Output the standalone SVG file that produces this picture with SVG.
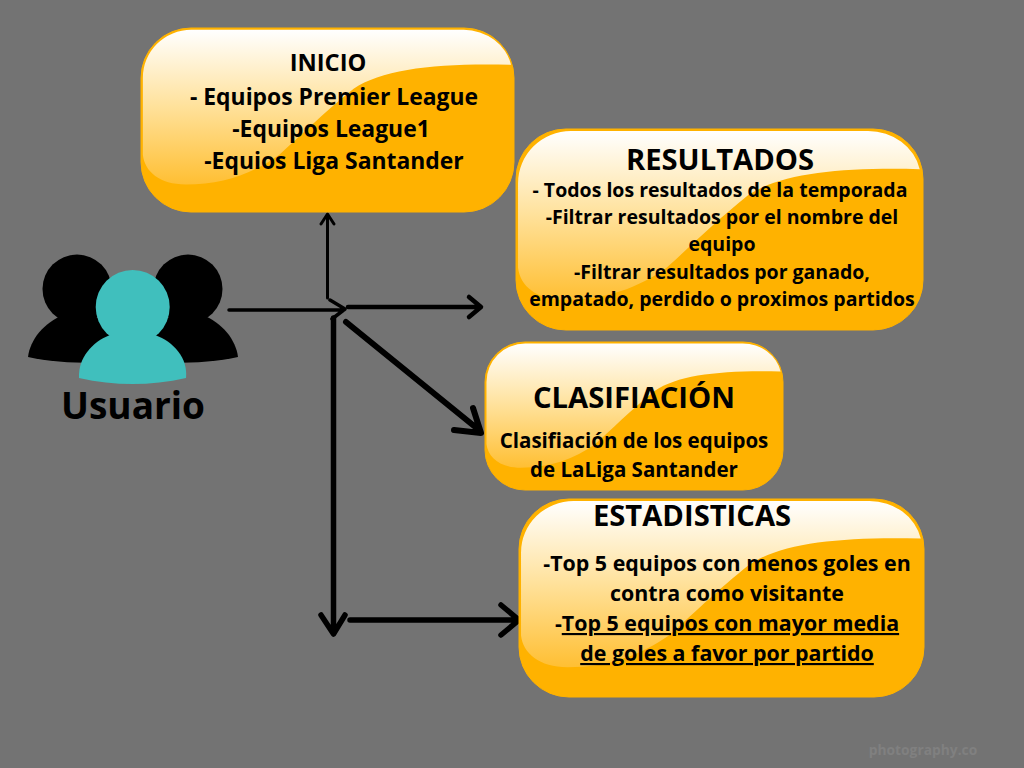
<svg xmlns="http://www.w3.org/2000/svg" xmlns:xlink="http://www.w3.org/1999/xlink" width="1024" height="768" viewBox="0 0 1024 768">
<style>
text{font-family:"Open Sans","Noto Sans","DejaVu Sans",sans-serif;font-weight:700;fill:#000;text-anchor:middle}
.box{fill:#ffb200;stroke:#ffb200;stroke-width:1}
.h{font-size:29.200px}
.u{text-decoration:underline}
.c{fill:none;stroke:#000;stroke-linecap:round;stroke-linejoin:round}
</style>
<defs>
<linearGradient id="g" x1="0" y1="0" x2="0" y2="1">
<stop offset="0" stop-color="#fff"/>
<stop offset="0.5" stop-color="#ffe19a"/>
<stop offset="1" stop-color="#ffbf33"/>
</linearGradient>
<path id="gloss" fill="url(#g)" d="M0.5,27 A13,26 0 0 1 13.500,1 H86.500 A13,24 0 0 1 99.200,20 C80,19 65,22 57,33 C49,46 42,60 37,69 C30,79 22,85 12,85 C5,85 1,78 0.5,69 Z"/>
</defs>
<rect width="1024" height="768" fill="#737373"/>

<g id="connectors">
<path class="c" stroke-width="3" d="M327.500,298V214M321,224L327.500,214L334,224"/>
<path class="c" stroke-width="3.500" d="M229,310H344M330,300L345,309L332,319"/>
<path class="c" stroke-width="4.500" d="M348,307H480M469,297L481,307L469,317"/>
<path class="c" stroke-width="6" d="M346,322L479,430M473,408L481,433L454,430"/>
<path class="c" stroke-width="5.500" d="M333.500,318V633M321,615L333.500,634L345,615"/>
<path class="c" stroke-width="5.500" d="M350,620H518M501,605L519,620L501,635"/>
</g>

<g id="usuario">
<circle cx="77" cy="289" r="34.500"/>
<path d="M28,357C30,340 44,322 64,315H92C110,322 124,340 126,362C90,364 55,363 28,357Z"/>
<circle cx="188" cy="289" r="34.500"/>
<path d="M238,357C236,340 222,322 202,315H174C156,322 142,340 140,362C176,364 211,363 238,357Z"/>
<circle cx="132.700" cy="307" r="37" fill="#40bfbd"/>
<path fill="#40bfbd" d="M79,378C78,358 92,342 110,335H155C174,342 188,358 186,378C150,386 115,386 79,378Z"/>
<text x="133" y="419" font-size="37">Usuario</text>
</g>

<g id="inicio">
<rect class="box" x="141" y="28" width="373" height="184" rx="50"/>
<use xlink:href="#gloss" href="#gloss" transform="translate(141,28) scale(3.73,1.84)"/>
<text x="328" y="70.500" font-size="23.700">INICIO</text>
<text x="334" y="105" font-size="22.900">- Equipos Premier League</text>
<text x="331" y="137" font-size="22.900">-Equipos League1</text>
<text x="334" y="169" font-size="22.900">-Equios Liga Santander</text>
</g>

<g id="resultados">
<rect class="box" x="516" y="129" width="407" height="201" rx="50"/>
<use xlink:href="#gloss" href="#gloss" transform="translate(516,129) scale(4.07,2.01)"/>
<text class="h" x="720" y="170">RESULTADOS</text>
<text x="720" y="197" font-size="19.500">- Todos los resultados de la temporada</text>
<text x="722" y="224" font-size="19.500">-Filtrar resultados por el nombre del</text>
<text x="722" y="251" font-size="19.500">equipo</text>
<text x="722" y="279" font-size="19.500">-Filtrar resultados por ganado,</text>
<text x="722" y="306" font-size="19.500">empatado, perdido o proximos partidos</text>
</g>

<g id="clasificacion">
<rect class="box" x="485" y="342" width="298" height="148" rx="40"/>
<use xlink:href="#gloss" href="#gloss" transform="translate(485,342) scale(2.98,1.48)"/>
<text class="h" x="634" y="408">CLASIFIACIÓN</text>
<text x="634" y="448" font-size="20.500">Clasifiación de los equipos</text>
<text x="634" y="477" font-size="20.500">de LaLiga Santander</text>
</g>

<g id="estadisticas">
<rect class="box" x="519" y="499" width="405" height="198" rx="50"/>
<use xlink:href="#gloss" href="#gloss" transform="translate(519,499) scale(4.05,1.98)"/>
<text class="h" x="692" y="526">ESTADISTICAS</text>
<text x="727" y="571" font-size="21.400">-Top 5 equipos con menos goles en</text>
<text x="727" y="601" font-size="21.400">contra como visitante</text>
<text x="727" y="631" font-size="21.400">-<tspan class="u">Top 5 equipos con mayor media</tspan></text>
<text x="727" y="661" font-size="21.400" class="u">de goles a favor por partido</text>
</g>

<text id="watermark" x="923" y="755" font-size="13.800" style="fill:#808080">photography.co</text>
</svg>
